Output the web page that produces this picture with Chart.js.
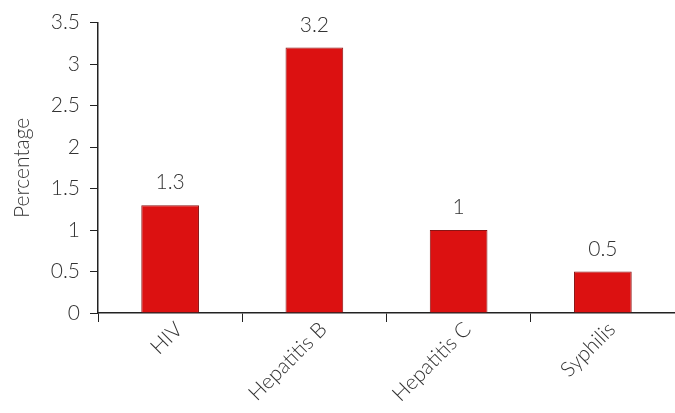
<!DOCTYPE html>
<html>
<head>
<meta charset="utf-8">
<script src="https://cdn.jsdelivr.net/npm/chart.js@4"></script>
<style>
  html, body { margin: 0; padding: 0; background: #fff; }
  #wrap { width: 675px; height: 413px; }
</style>
</head>
<body>
<div id="wrap"><canvas id="diseaseChart"></canvas></div>
<script>
const categories = ["HIV", "Hepatitis B", "Hepatitis C", "Syphilis"];
const percentages = [1.3, 3.2, 1, 0.5];
const yTicks = [0, 0.5, 1, 1.5, 2, 2.5, 3, 3.5];

const textColor = '#333333';
const fontFamily = 'Lato, "Open Sans", sans-serif';
const fontSize = 21;

// draws the value above each bar
const valueLabels = {
    id: 'valueLabels',
    afterDatasetsDraw(chart) {
        const ctx = chart.ctx;
        const meta = chart.getDatasetMeta(0);
        ctx.save();
        ctx.fillStyle = textColor;
        ctx.font = '300 ' + fontSize + 'px ' + fontFamily;
        ctx.textAlign = 'center';
        ctx.textBaseline = 'bottom';
        meta.data.forEach(function (bar, i) {
            ctx.fillText(String(percentages[i]), bar.x, bar.y - 12);
        });
        ctx.restore();
    }
};

const ctx = document.getElementById('diseaseChart').getContext('2d');
new Chart(ctx, {
    type: 'bar',
    data: {
        labels: categories,
        datasets: [{
            data: percentages,
            backgroundColor: '#dc1111',
            borderColor: '#8a1414',
            borderWidth: 1,
            barPercentage: 0.4,
            categoryPercentage: 1.0
        }]
    },
    options: {
        responsive: true,
        maintainAspectRatio: false,
        animation: false,
        layout: { padding: { top: 18, right: 0, bottom: 0, left: 0 } },
        plugins: {
            legend: { display: false },
            tooltip: { enabled: false }
        },
        scales: {
            x: {
                grid: {
                    display: true,
                    drawOnChartArea: false,
                    drawTicks: true,
                    tickLength: 9,
                    color: '#222',
                    offset: true
                },
                border: { display: true, color: '#222', width: 1.5 },
                ticks: {
                    color: textColor,
                    font: { family: fontFamily, size: fontSize, weight: 300 },
                    maxRotation: 45,
                    minRotation: 45,
                    padding: -5,
                    labelOffset: 9
                },
                afterFit(scale) { scale.height = 100; }
            },
            y: {
                min: 0,
                max: 3.5,
                afterBuildTicks(scale) {
                    scale.ticks = yTicks.map(v => ({ value: v }));
                },
                grid: {
                    display: true,
                    drawOnChartArea: false,
                    drawTicks: true,
                    tickLength: 8,
                    color: '#222'
                },
                border: { display: true, color: '#222', width: 1.5 },
                ticks: {
                    color: textColor,
                    font: { family: fontFamily, size: fontSize, weight: 300 },
                    padding: 10,
                    callback: v => String(v)
                },
                title: {
                    display: true,
                    text: 'Percentage',
                    color: textColor,
                    font: { family: fontFamily, size: fontSize, weight: 300 },
                    padding: { top: 10, bottom: 0 }
                },
                afterFit(scale) { scale.width = 98; }
            }
        }
    },
    plugins: [valueLabels]
});
</script>
</body>
</html>
